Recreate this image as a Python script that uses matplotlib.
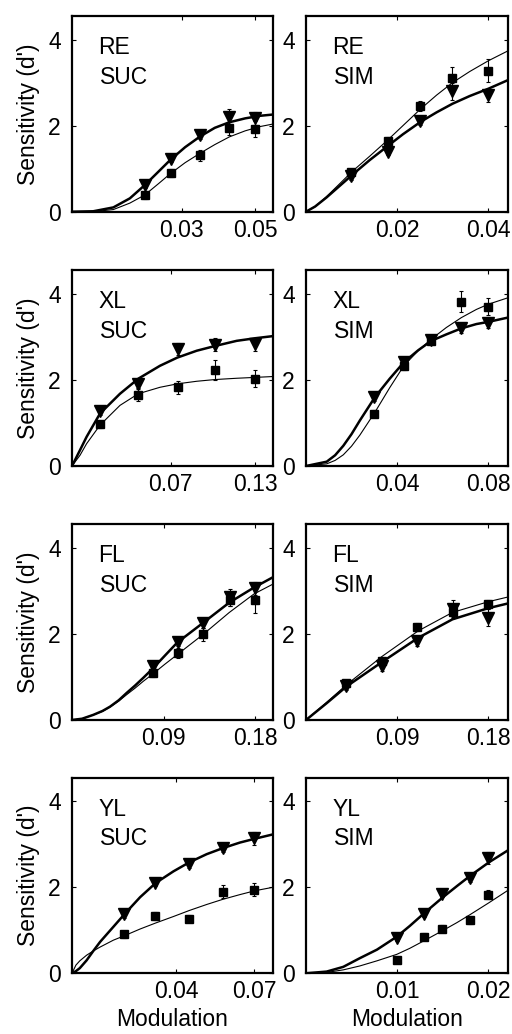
"""Sensitivity (d') vs modulation for four observers, SUC and SIM conditions."""

import matplotlib
matplotlib.use("Agg")
import matplotlib.pyplot as plt

plt.rcParams["font.family"] = ["Liberation Sans", "DejaVu Sans"]
plt.rcParams["font.size"] = 16.5

# ---- RE, SUC ----
RE_SUC_X = [0.02, 0.027, 0.035, 0.043, 0.05]
RE_SUC_TRI = [0.63, 1.23, 1.78, 2.2, 2.17]
RE_SUC_TRI_ERR = [0.08, 0.08, 0.1, 0.18, 0.15]
RE_SUC_SQ = [0.38, 0.9, 1.31, 1.94, 1.92]
RE_SUC_SQ_ERR = [0.08, 0.1, 0.12, 0.15, 0.18]
RE_SUC_CX = [0, 0.0058, 0.0113, 0.0158, 0.0199, 0.0236, 0.0268, 0.0309, 0.035, 0.039, 0.043, 0.0473, 0.0514, 0.055]
RE_SUC_THICK = [0, 0.01, 0.1, 0.31, 0.62, 0.93, 1.2, 1.5, 1.75, 1.95, 2.08, 2.17, 2.23, 2.26]
RE_SUC_THIN = [0, 0.0, 0.05, 0.2, 0.39, 0.65, 0.88, 1.14, 1.36, 1.56, 1.74, 1.88, 1.98, 2.04]

# ---- RE, SIM ----
RE_SIM_X = [0.01, 0.018, 0.025, 0.032, 0.04]
RE_SIM_TRI = [0.82, 1.39, 2.12, 2.8, 2.71]
RE_SIM_TRI_ERR = [0.08, 0.08, 0.1, 0.2, 0.15]
RE_SIM_SQ = [0.92, 1.65, 2.45, 3.12, 3.28]
RE_SIM_SQ_ERR = [0.08, 0.08, 0.12, 0.24, 0.27]
RE_SIM_CX = [0, 0.002, 0.0045, 0.0102, 0.014, 0.018, 0.0213, 0.0252, 0.0287, 0.0322, 0.036, 0.0401, 0.0444]
RE_SIM_THICK = [0, 0.12, 0.33, 0.86, 1.2, 1.53, 1.8, 2.09, 2.31, 2.51, 2.69, 2.86, 3.06]
RE_SIM_THIN = [0, 0.12, 0.35, 0.94, 1.29, 1.67, 2.0, 2.39, 2.71, 3.0, 3.26, 3.51, 3.74]

# ---- XL, SUC ----
XL_SUC_X = [0.02, 0.047, 0.075, 0.1016, 0.13]
XL_SUC_TRI = [1.29, 1.91, 2.72, 2.82, 2.83]
XL_SUC_TRI_ERR = [0.1, 0.12, 0.15, 0.15, 0.15]
XL_SUC_SQ = [0.97, 1.66, 1.83, 2.23, 2.03]
XL_SUC_SQ_ERR = [0.08, 0.15, 0.15, 0.24, 0.2]
XL_SUC_CX = [0, 0.0057, 0.0104, 0.0199, 0.0341, 0.0471, 0.0625, 0.0748, 0.0886, 0.1016, 0.117, 0.13, 0.1428]
XL_SUC_THICK = [0, 0.37, 0.68, 1.22, 1.68, 2.03, 2.33, 2.52, 2.68, 2.79, 2.91, 2.97, 3.02]
XL_SUC_THIN = [0, 0.25, 0.52, 0.95, 1.41, 1.68, 1.83, 1.91, 1.97, 2.01, 2.04, 2.06, 2.08]

# ---- XL, SIM ----
XL_SIM_X = [0.03, 0.043, 0.055, 0.068, 0.08]
XL_SIM_TRI = [1.6, 2.41, 2.93, 3.2, 3.33]
XL_SIM_TRI_ERR = [0.1, 0.1, 0.1, 0.1, 0.13]
XL_SIM_SQ = [1.22, 2.33, 2.91, 3.82, 3.7]
XL_SIM_SQ_ERR = [0.08, 0.1, 0.08, 0.25, 0.2]
XL_SIM_CX = [0, 0.0091, 0.0128, 0.0164, 0.02, 0.0237, 0.0303, 0.0368, 0.043, 0.0493, 0.0551,
             0.0617, 0.0683, 0.0749, 0.0801, 0.0887]
XL_SIM_THICK = [0, 0.1, 0.25, 0.47, 0.74, 1.06, 1.6, 2.03, 2.41, 2.69, 2.91, 3.06, 3.2, 3.3, 3.35, 3.45]
XL_SIM_THIN = [0, 0.05, 0.13, 0.26, 0.46, 0.72, 1.25, 1.82, 2.33, 2.68, 2.95, 3.22, 3.45, 3.64, 3.76, 3.91]

# ---- FL, SUC ----
FL_SUC_X = [0.08, 0.104, 0.129, 0.155, 0.18]
FL_SUC_TRI = [1.25, 1.81, 2.25, 2.85, 3.06]
FL_SUC_TRI_ERR = [0.1, 0.1, 0.12, 0.2, 0.15]
FL_SUC_SQ = [1.09, 1.55, 1.99, 2.8, 2.78]
FL_SUC_SQ_ERR = [0.1, 0.12, 0.15, 0.15, 0.3]
FL_SUC_CX = [0, 0.01, 0.021, 0.03, 0.0374, 0.046, 0.0538, 0.062, 0.0701, 0.08, 0.0915, 0.1035,
             0.129, 0.1547, 0.179, 0.1977]
FL_SUC_THICK = [0, 0.03, 0.12, 0.21, 0.31, 0.46, 0.63, 0.8, 0.98, 1.21, 1.5, 1.8, 2.26, 2.73, 3.08, 3.32]
FL_SUC_THIN = [0, 0.03, 0.12, 0.2, 0.3, 0.44, 0.59, 0.74, 0.9, 1.08, 1.3, 1.52, 1.99, 2.5, 2.93, 3.16]

# ---- FL, SIM ----
FL_SIM_X = [0.04, 0.075, 0.11, 0.145, 0.18]
FL_SIM_TRI = [0.78, 1.25, 1.83, 2.58, 2.38]
FL_SIM_TRI_ERR = [0.08, 0.1, 0.1, 0.22, 0.2]
FL_SIM_SQ = [0.86, 1.37, 2.16, 2.51, 2.69]
FL_SIM_SQ_ERR = [0.08, 0.08, 0.1, 0.12, 0.1]
FL_SIM_CX = [0, 0.0204, 0.0401, 0.0753, 0.1109, 0.1448, 0.1803, 0.1998]
FL_SIM_THICK = [0, 0.39, 0.78, 1.35, 1.91, 2.34, 2.6, 2.71]
FL_SIM_THIN = [0, 0.41, 0.82, 1.48, 2.07, 2.5, 2.75, 2.86]

# ---- YL, SUC ----
YL_SUC_X = [0.02, 0.032, 0.045, 0.058, 0.07]
YL_SUC_TRI = [1.39, 2.1, 2.55, 2.92, 3.14]
YL_SUC_TRI_ERR = [0.1, 0.08, 0.1, 0.1, 0.15]
YL_SUC_SQ = [0.91, 1.33, 1.27, 1.9, 1.94]
YL_SUC_SQ_ERR = [0.08, 0.1, 0.08, 0.15, 0.15]
YL_SUC_CX = [0, 0.0015, 0.003, 0.0056, 0.0082, 0.0108, 0.0159, 0.0204, 0.0262, 0.0322, 0.039,
             0.0451, 0.0518, 0.058, 0.0646, 0.0704, 0.0773]
YL_SUC_THICK = [0, 0.05, 0.12, 0.3, 0.52, 0.73, 1.08, 1.39, 1.77, 2.1, 2.37, 2.58, 2.77, 2.91, 3.04, 3.13, 3.23]
YL_SUC_THIN = [0, 0.19, 0.29, 0.42, 0.52, 0.61, 0.77, 0.88, 1.03, 1.17, 1.32, 1.46, 1.6, 1.72, 1.83, 1.92, 2.0]

# ---- YL, SIM ----
YL_SIM_X = [0.01, 0.013, 0.015, 0.018, 0.02]
YL_SIM_TRI = [0.83, 1.39, 1.85, 2.21, 2.68]
YL_SIM_TRI_ERR = [0.08, 0.08, 0.08, 0.08, 0.15]
YL_SIM_SQ = [0.31, 0.85, 1.04, 1.23, 1.83]
YL_SIM_SQ_ERR = [0.05, 0.08, 0.08, 0.08, 0.1]
YL_SIM_CX = [0, 0.00227, 0.0041, 0.0059, 0.0078, 0.00997, 0.0114, 0.013, 0.015, 0.0166, 0.018, 0.0201, 0.0222]
YL_SIM_THICK = [0, 0.04, 0.15, 0.35, 0.55, 0.85, 1.1, 1.4, 1.76, 2.03, 2.26, 2.58, 2.86]
YL_SIM_THIN = [0, 0.02, 0.08, 0.17, 0.29, 0.44, 0.58, 0.76, 0.99, 1.18, 1.36, 1.64, 1.93]

X_TICKS = {
    "RE SUC": ([0.03, 0.05], ["0.03", "0.05"]),
    "RE SIM": ([0.02, 0.04], ["0.02", "0.04"]),
    "XL SUC": ([0.07, 0.13], ["0.07", "0.13"]),
    "XL SIM": ([0.04, 0.08], ["0.04", "0.08"]),
    "FL SUC": ([0.09, 0.18], ["0.09", "0.18"]),
    "FL SIM": ([0.09, 0.18], ["0.09", "0.18"]),
    "YL SUC": ([0.04, 0.07], ["0.04", "0.07"]),
    "YL SIM": ([0.01, 0.02], ["0.01", "0.02"]),
}
Y_TICKS = [0, 2, 4]


def draw_panel(ax, name, cond, x, tri, tri_err, sq, sq_err, cx, thick, thin, xmax):
    ax.plot(cx, thin, color="black", lw=0.8, zorder=2)
    ax.plot(cx, thick, color="black", lw=1.8, zorder=2)
    ax.errorbar(x, sq, yerr=sq_err, fmt="s", color="black", ms=5.2,
                elinewidth=0.8, capsize=1.5, capthick=0.8, zorder=3)
    ax.errorbar(x, tri, yerr=tri_err, fmt="v", color="black", ms=8,
                elinewidth=0.8, capsize=1.5, capthick=0.8, zorder=3)
    ax.set_xlim(0, xmax)
    ax.set_ylim(0, 4.55)
    ticks, labels = X_TICKS[f"{name} {cond}"]
    ax.set_xticks(ticks)
    ax.set_xticklabels(labels)
    ax.set_yticks(Y_TICKS)
    ax.tick_params(direction="in", top=True, right=True, length=3, width=0.8)
    ax.tick_params(axis="y", pad=8)
    ax.tick_params(axis="x", pad=5)
    for sp in ax.spines.values():
        sp.set_linewidth(1.6)
    ax.text(0.13, 0.805, name, transform=ax.transAxes)
    ax.text(0.138, 0.655, cond, transform=ax.transAxes)


fig = plt.figure(figsize=(5.12, 10.34), dpi=100)

col_left = [72 / 512, 306 / 512]
col_width = [201 / 512, 202 / 512]
row_bottom = [1 - 211.7 / 1034, 1 - 466 / 1034, 1 - 720 / 1034, 1 - 973.3 / 1034]
row_height = 195.7 / 1034

panels = [
    ("RE", "SUC", RE_SUC_X, RE_SUC_TRI, RE_SUC_TRI_ERR, RE_SUC_SQ, RE_SUC_SQ_ERR,
     RE_SUC_CX, RE_SUC_THICK, RE_SUC_THIN, 0.0549),
    ("RE", "SIM", RE_SIM_X, RE_SIM_TRI, RE_SIM_TRI_ERR, RE_SIM_SQ, RE_SIM_SQ_ERR,
     RE_SIM_CX, RE_SIM_THICK, RE_SIM_THIN, 0.0444),
    ("XL", "SUC", XL_SUC_X, XL_SUC_TRI, XL_SUC_TRI_ERR, XL_SUC_SQ, XL_SUC_SQ_ERR,
     XL_SUC_CX, XL_SUC_THICK, XL_SUC_THIN, 0.1428),
    ("XL", "SIM", XL_SIM_X, XL_SIM_TRI, XL_SIM_TRI_ERR, XL_SIM_SQ, XL_SIM_SQ_ERR,
     XL_SIM_CX, XL_SIM_THICK, XL_SIM_THIN, 0.0888),
    ("FL", "SUC", FL_SUC_X, FL_SUC_TRI, FL_SUC_TRI_ERR, FL_SUC_SQ, FL_SUC_SQ_ERR,
     FL_SUC_CX, FL_SUC_THICK, FL_SUC_THIN, 0.1977),
    ("FL", "SIM", FL_SIM_X, FL_SIM_TRI, FL_SIM_TRI_ERR, FL_SIM_SQ, FL_SIM_SQ_ERR,
     FL_SIM_CX, FL_SIM_THICK, FL_SIM_THIN, 0.1998),
    ("YL", "SUC", YL_SUC_X, YL_SUC_TRI, YL_SUC_TRI_ERR, YL_SUC_SQ, YL_SUC_SQ_ERR,
     YL_SUC_CX, YL_SUC_THICK, YL_SUC_THIN, 0.0773),
    ("YL", "SIM", YL_SIM_X, YL_SIM_TRI, YL_SIM_TRI_ERR, YL_SIM_SQ, YL_SIM_SQ_ERR,
     YL_SIM_CX, YL_SIM_THICK, YL_SIM_THIN, 0.0222),
]

for i, p in enumerate(panels):
    row, col = divmod(i, 2)
    ax = fig.add_axes([col_left[col], row_bottom[row], col_width[col], row_height])
    draw_panel(ax, *p)
    if col == 0:
        ax.set_ylabel("Sensitivity (d')")
        ax.yaxis.set_label_coords(-0.16, 0.5)
    if row == 3:
        ax.set_xlabel("Modulation")
        ax.xaxis.set_label_coords(0.5, -0.175)

fig.savefig("out.png", dpi=100)
plt.close(fig)
